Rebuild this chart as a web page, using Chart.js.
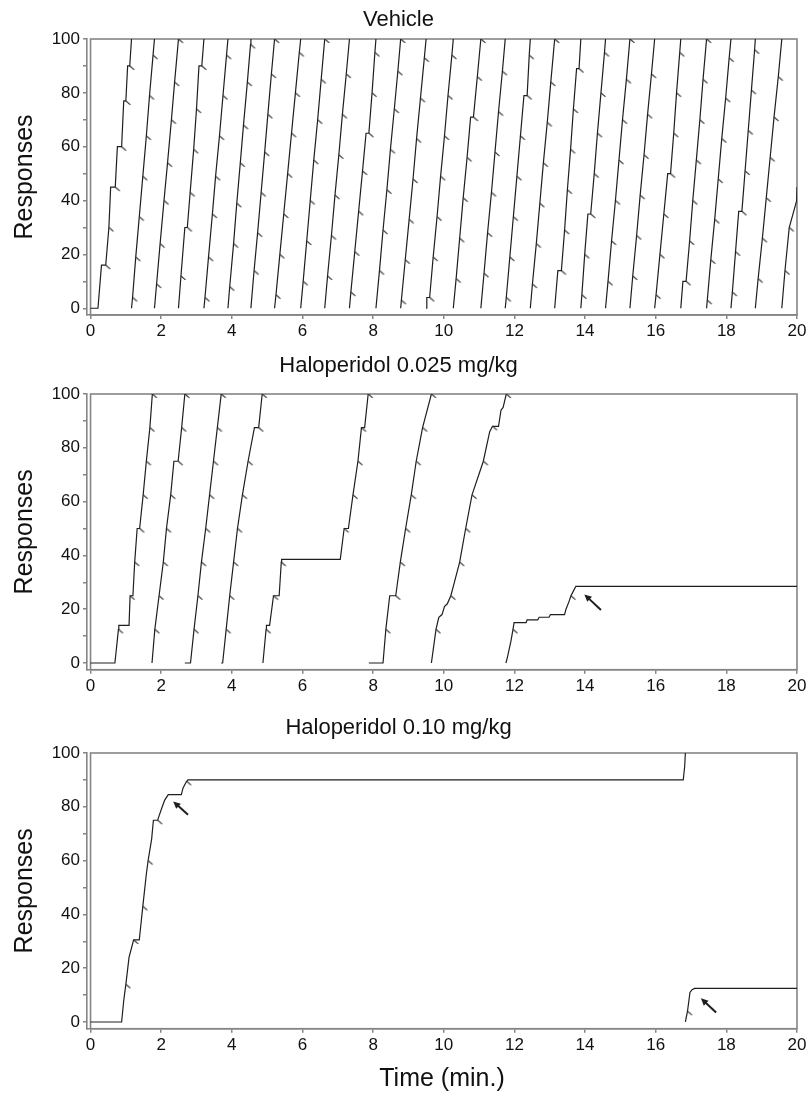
<!DOCTYPE html>
<html>
<head>
<meta charset="utf-8">
<script src="https://cdn.jsdelivr.net/npm/chart.js@4.4.0/dist/chart.umd.min.js"></script>
<style>
  body { margin: 0; background: #fff; width: 806px; height: 1098px; position: relative; overflow: hidden; }
  canvas { position: absolute; left: 0; }
</style>
</head>
<body>
<canvas id="vehicle" width="806" height="340" style="top:0"></canvas>
<canvas id="halo025" width="806" height="355" style="top:340px"></canvas>
<canvas id="halo010" width="806" height="403" style="top:695px"></canvas>
<script>
// cumulative records: each stroke is a list of [time (min), responses, pip?]
// the pen resets to 0 after 100 responses, so every reset starts a new stroke
const vehicleStrokes = [
  [[0,0],[0.21,0],[0.31,16],[0.43,16,1],[0.52,30,1],[0.57,45],[0.70,45,1],[0.76,60],[0.88,60,1],[0.94,77],[1.00,77,1],[1.05,90],[1.11,90,1],[1.16,100]],
  [[1.16,0],[1.19,4,1],[1.28,19,1],[1.38,34,1],[1.48,49,1],[1.58,64,1],[1.67,79,1],[1.77,94,1],[1.81,100]],
  [[1.81,0],[1.87,9,1],[1.97,24,1],[2.08,40,1],[2.18,54,1],[2.29,70,1],[2.38,84,1],[2.49,100,1]],
  [[2.49,0],[2.56,12,1],[2.67,30],[2.74,30,1],[2.82,43,1],[2.92,59,1],[3.00,74,1],[3.07,90],[3.15,90,1],[3.21,100]],
  [[3.21,0],[3.24,4,1],[3.34,19,1],[3.45,35,1],[3.54,49,1],[3.65,64,1],[3.75,79,1],[3.85,94,1],[3.89,100]],
  [[3.89,0],[3.94,8,1],[4.05,24,1],[4.14,39,1],[4.24,54,1],[4.33,68,1],[4.44,84,1],[4.53,98,1],[4.54,100]],
  [[4.54,0],[4.63,14,1],[4.73,28,1],[4.83,43,1],[4.93,58,1],[5.02,72,1],[5.12,87,1],[5.21,100,1]],
  [[5.21,0],[5.25,5,1],[5.36,20,1],[5.47,35,1],[5.58,50,1],[5.69,65,1],[5.80,80,1],[5.91,95,1],[5.95,100]],
  [[5.95,0],[6.02,10,1],[6.12,25,1],[6.22,40,1],[6.32,55,1],[6.43,70,1],[6.53,85,1],[6.63,100,1]],
  [[6.63,0],[6.71,12,1],[6.82,27,1],[6.92,42,1],[7.03,57,1],[7.13,72,1],[7.24,87,1],[7.33,100]],
  [[7.33,0],[7.37,6,1],[7.48,21,1],[7.59,36,1],[7.70,51,1],[7.80,65],[7.88,65,1],[7.97,80,1],[8.05,95,1],[8.08,100]],
  [[8.08,0],[8.18,14,1],[8.28,29,1],[8.39,44,1],[8.49,59,1],[8.60,74,1],[8.70,88,1],[8.78,100,1]],
  [[8.78,0],[8.80,3,1],[8.91,18,1],[9.02,33,1],[9.13,48,1],[9.23,63,1],[9.34,78,1],[9.45,93,1],[9.50,100]],
  [[9.50,0],[9.52,4],[9.60,4,1],[9.70,19,1],[9.81,34,1],[9.91,49,1],[10.02,64,1],[10.12,79,1],[10.23,94,1],[10.27,100]],
  [[10.27,0],[10.35,11,1],[10.45,26,1],[10.55,41,1],[10.66,56,1],[10.76,71],[10.84,71,1],[10.95,86,1],[11.05,100,1]],
  [[11.05,0],[11.14,13,1],[11.24,28,1],[11.35,43,1],[11.45,58,1],[11.55,73,1],[11.66,88,1],[11.74,100]],
  [[11.74,0],[11.77,4,1],[11.87,19,1],[11.97,34,1],[12.07,49,1],[12.17,64,1],[12.27,79],[12.36,79,1],[12.42,94,1],[12.45,100]],
  [[12.45,0],[12.51,9,1],[12.62,24,1],[12.72,39,1],[12.82,54,1],[12.93,69,1],[13.03,84,1],[13.14,100,1]],
  [[13.14,0],[13.23,14],[13.33,14,1],[13.42,29,1],[13.50,44,1],[13.59,59,1],[13.67,74,1],[13.76,89],[13.83,89,1],[13.88,100]],
  [[13.88,0],[13.91,5,1],[13.99,20,1],[14.08,35],[14.16,35,1],[14.26,50,1],[14.35,65,1],[14.45,80,1],[14.55,95,1],[14.58,100]],
  [[14.58,0],[14.65,10,1],[14.75,25,1],[14.86,40,1],[14.96,55,1],[15.06,70,1],[15.17,85,1],[15.27,100,1]],
  [[15.27,0],[15.35,12,1],[15.46,27,1],[15.56,42,1],[15.67,57,1],[15.77,72,1],[15.88,87,1],[15.97,100]],
  [[15.97,0],[16.01,5,1],[16.12,20,1],[16.23,35,1],[16.34,50],[16.42,50,1],[16.51,65,1],[16.59,80,1],[16.68,95,1],[16.71,100]],
  [[16.71,0],[16.77,10],[16.86,10,1],[16.96,25,1],[17.05,40,1],[17.15,55,1],[17.25,70,1],[17.34,85,1],[17.44,100,1]],
  [[17.44,0],[17.46,3,1],[17.56,18,1],[17.67,33,1],[17.77,48,1],[17.87,63,1],[17.98,78,1],[18.08,93,1],[18.13,100]],
  [[18.13,0],[18.17,6,1],[18.26,21,1],[18.35,36],[18.44,36,1],[18.53,51,1],[18.62,66,1],[18.71,81,1],[18.80,96,1],[18.82,100]],
  [[18.82,0],[18.90,11,1],[19.02,26,1],[19.13,41,1],[19.24,56,1],[19.35,71,1],[19.47,86,1],[19.57,100]],
  [[19.57,0],[19.66,14,1],[19.78,30,1],[19.95,38],[19.99,40],[20.0,45]]
];

const halo025Strokes = [
  [[0,0],[0.69,0],[0.79,12.5,1],[0.80,14],[1.09,14],[1.12,25,1],[1.20,25],[1.25,37.5,1],[1.32,50],[1.39,50,1],[1.49,62.5,1],[1.58,75,1],[1.68,87.5,1],[1.75,100,1]],
  [[1.74,0],[1.82,12.5,1],[1.94,25,1],[2.06,37.5,1],[2.15,50,1],[2.27,62.5,1],[2.36,75],[2.48,75,1],[2.58,87.5,1],[2.67,100,1]],
  [[2.67,0],[2.83,0],[2.93,12.5,1],[3.04,25,1],[3.14,37.5,1],[3.26,50,1],[3.37,62.5,1],[3.48,75,1],[3.59,87.5,1],[3.70,100,1]],
  [[3.70,0],[3.74,0],[3.84,12.5,1],[3.94,25,1],[4.05,37.5,1],[4.16,50,1],[4.30,62.5,1],[4.46,75,1],[4.64,87.5],[4.76,87.5,1],[4.86,100,1]],
  [[4.88,0],[4.97,12.5,1],[4.98,14],[5.07,14],[5.18,25,1],[5.34,25],[5.40,37.5,1],[5.41,38.5],[7.07,38.5],[7.18,50,1],[7.30,50],[7.43,62.5,1],[7.57,75,1],[7.67,87.5,1],[7.76,87.5],[7.86,100,1]],
  [[7.88,0],[8.28,0],[8.36,12.5,1],[8.47,25],[8.64,25,1],[8.77,37.5,1],[8.92,50,1],[9.08,62.5,1],[9.22,75,1],[9.40,87.5,1],[9.65,100,1]],
  [[9.65,0],[9.78,12.5,1],[9.86,17],[9.95,18],[10.02,21],[10.10,22],[10.20,25,1],[10.30,30],[10.45,37.5,1],[10.62,50,1],[10.80,62.5,1],[11.12,75,1],[11.30,86],[11.38,88,1],[11.55,88],[11.62,94],[11.68,95],[11.77,100,1]],
  [[11.76,0],[11.80,2],[11.90,8],[11.96,12.5,1],[11.99,15],[12.33,15],[12.36,16],[12.66,16],[12.70,17],[12.98,17],[13.02,18],[13.42,18],[13.46,20],[13.55,23],[13.60,25,1],[13.68,27],[13.74,28.5],[20,28.5]]
];

const halo010Strokes = [
  [[0,0],[0.88,0],[0.94,8],[1.00,14,1],[1.09,24],[1.22,30.5,1],[1.38,30.5],[1.48,43,1],[1.58,55],[1.63,60,1],[1.73,68],[1.78,75],[1.90,75,1],[1.95,77],[2.03,80],[2.10,82.5],[2.20,84.5],[2.57,84.5],[2.62,87],[2.66,88],[2.72,89.5,1],[2.76,90],[16.78,90],[16.82,95],[16.84,100]],
  [[16.84,0],[16.90,4,1],[16.94,8],[16.97,11],[17.03,12],[17.10,12.5],[20,12.5]]
];

// arrows: [tail time, tail responses, tip time, tip responses]
const halo025Arrows = [[14.45, 19.7, 13.98, 25.5]];
const halo010Arrows = [[2.76, 77, 2.34, 82], [17.71, 3.5, 17.28, 8.8]];

const xTicks = [0, 2, 4, 6, 8, 10, 12, 14, 16, 18, 20];
const yTicks = [0, 10, 20, 30, 40, 50, 60, 70, 80, 90, 100];
const yLabels = [0, 20, 40, 60, 80, 100];

const FONT = "'Liberation Sans', Arial, sans-serif";
const INK = '#1e1e1e';
const FRAME = '#858585';

// small reinforcement pip, drawn from the point down to the right
const pipMark = (() => {
  const c = document.createElement('canvas');
  c.width = 14; c.height = 14;
  const g = c.getContext('2d');
  g.strokeStyle = '#333';
  g.lineWidth = 1.1;
  g.beginPath();
  g.moveTo(7, 7);
  g.lineTo(11.5, 10.8);
  g.stroke();
  return c;
})();

// recorder frame: starts at time 0, a little right of the y axis line
const framePlugin = {
  id: 'frame',
  beforeDatasetsDraw(chart) {
    const a = chart.chartArea, ctx = chart.ctx;
    const left = chart.scales.x.getPixelForValue(0);
    ctx.save();
    ctx.strokeStyle = FRAME;
    ctx.lineWidth = 1.6;
    ctx.strokeRect(left, a.top, a.right - left, a.bottom - a.top);
    ctx.restore();
  }
};

function arrowPlugin(items) {
  return {
    id: 'arrowMarks',
    afterDatasetsDraw(chart) {
      const { ctx, scales: { x, y } } = chart;
      items.forEach(([t0, v0, t1, v1]) => {
        const x0 = x.getPixelForValue(t0), y0 = y.getPixelForValue(v0);
        const x1 = x.getPixelForValue(t1), y1 = y.getPixelForValue(v1);
        const a = Math.atan2(y1 - y0, x1 - x0);
        ctx.save();
        ctx.strokeStyle = INK;
        ctx.fillStyle = INK;
        ctx.lineWidth = 2;
        ctx.beginPath();
        ctx.moveTo(x0, y0);
        ctx.lineTo(x1 - 4 * Math.cos(a), y1 - 4 * Math.sin(a));
        ctx.stroke();
        ctx.beginPath();
        ctx.moveTo(x1, y1);
        ctx.lineTo(x1 - 8 * Math.cos(a - 0.45), y1 - 8 * Math.sin(a - 0.45));
        ctx.lineTo(x1 - 8 * Math.cos(a + 0.45), y1 - 8 * Math.sin(a + 0.45));
        ctx.closePath();
        ctx.fill();
        ctx.restore();
      });
    }
  };
}

function strokeDatasets(strokes) {
  const sets = strokes.map(s => ({
    data: s.map(p => ({ x: p[0], y: p[1] })),
    showLine: true,
    borderColor: INK,
    borderWidth: 1.2,
    pointRadius: 0,
    tension: 0
  }));
  sets.push({
    data: strokes.flat().filter(p => p[2]).map(p => ({ x: p[0], y: p[1] })),
    showLine: false,
    pointStyle: pipMark,
    pointRadius: 4,
    order: -1
  });
  return sets;
}

function drawPanel(id, title, strokes, arrows, layout) {
  const ctx = document.getElementById(id).getContext('2d');
  return new Chart(ctx, {
    type: 'scatter',
    data: { datasets: strokeDatasets(strokes) },
    plugins: [framePlugin, arrowPlugin(arrows)],
    options: {
      responsive: false,
      animation: false,
      events: [],
      layout: { padding: { left: 0, right: 9, top: 0, bottom: 0 } },
      plugins: {
        legend: { display: false },
        tooltip: { enabled: false },
        title: {
          display: true,
          text: title,
          color: '#111',
          font: { family: FONT, size: 22, weight: 'normal' },
          padding: layout.titlePad
        }
      },
      scales: {
        x: {
          type: 'linear',
          min: -0.1,
          max: 20,
          afterBuildTicks: s => { s.ticks = xTicks.map(v => ({ value: v })); },
          afterFit: s => { s.height = layout.xAxisH; s.paddingLeft = 0; s.paddingRight = 0; },
          ticks: { color: '#111', font: { family: FONT, size: 17 }, padding: 2, maxRotation: 0, autoSkip: false },
          grid: { drawOnChartArea: false, drawTicks: true, tickLength: 4, color: FRAME, lineWidth: 1.5 },
          border: { display: true, color: FRAME, width: 1.6 },
          title: {
            display: !!layout.xTitle,
            text: layout.xTitle || '',
            color: '#111',
            font: { family: FONT, size: 25 },
            padding: { top: 0, bottom: 4 }
          }
        },
        y: {
          type: 'linear',
          min: -2.5,
          max: 100,
          afterBuildTicks: s => { s.ticks = yTicks.map(v => ({ value: v })); },
          afterFit: s => { s.width = 87; s.paddingTop = 0; s.paddingBottom = 0; },
          ticks: {
            color: '#111',
            font: { family: FONT, size: 17 },
            padding: 3,
            callback: v => (yLabels.includes(v) ? String(v) : '')
          },
          grid: { drawOnChartArea: false, drawTicks: true, tickLength: 4, color: FRAME, lineWidth: 1.5 },
          border: { display: true, color: FRAME, width: 1.6 },
          title: {
            display: true,
            text: 'Responses',
            color: '#111',
            font: { family: FONT, size: 25 },
            padding: { top: 10, bottom: 0 }
          }
        }
      }
    }
  });
}

drawPanel('vehicle', 'Vehicle', vehicleStrokes, [],
  { titlePad: { top: 6.8, bottom: 5.8 }, xAxisH: 25 });
drawPanel('halo025', 'Haloperidol 0.025 mg/kg', halo025Strokes, halo025Arrows,
  { titlePad: { top: 12.8, bottom: 14.8 }, xAxisH: 25.3 });
drawPanel('halo010', 'Haloperidol 0.10 mg/kg', halo010Strokes, halo010Arrows,
  { titlePad: { top: 19.8, bottom: 11.8 }, xAxisH: 69.3, xTitle: 'Time (min.)' });
</script>
</body>
</html>
